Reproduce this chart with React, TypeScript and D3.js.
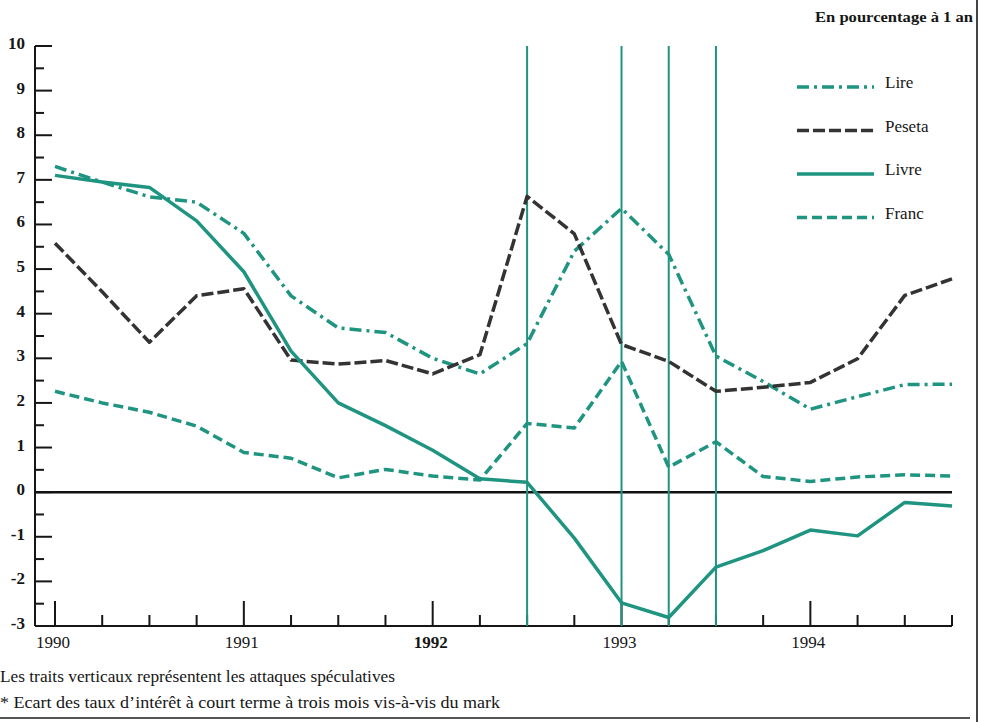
import React from 'react';
import * as d3 from 'd3';

// quarterly observations, 1990 Q1 .. 1994 Q4
const quarters: number[] = [
  1990, 1990.25, 1990.5, 1990.75, 1991, 1991.25, 1991.5, 1991.75, 1992, 1992.25,
  1992.5, 1992.75, 1993, 1993.25, 1993.5, 1993.75, 1994, 1994.25, 1994.5, 1994.75,
];

const lire: number[] = [
  7.3, 6.95, 6.62, 6.5, 5.8, 4.4, 3.68, 3.58, 3.0, 2.65,
  3.33, 5.4, 6.36, 5.33, 3.05, 2.48, 1.86, 2.14, 2.41, 2.42,
];
const peseta: number[] = [
  5.58, 4.49, 3.36, 4.4, 4.56, 2.96, 2.87, 2.95, 2.65, 3.08,
  6.63, 5.79, 3.31, 2.93, 2.26, 2.35, 2.46, 2.99, 4.41, 4.78,
];
const livre: number[] = [
  7.1, 6.95, 6.83, 6.08, 4.94, 3.16, 2.0, 1.49, 0.94, 0.3,
  0.22, -1.03, -2.48, -2.81, -1.68, -1.31, -0.85, -0.98, -0.23, -0.31,
];
const franc: number[] = [
  2.26, 2.0, 1.79, 1.48, 0.89, 0.76, 0.32, 0.51, 0.36, 0.27,
  1.54, 1.44, 2.93, 0.56, 1.13, 0.35, 0.24, 0.34, 0.39, 0.36,
];

// speculative attacks (vertical lines)
const attacks: number[] = [1992.5, 1993, 1993.25, 1993.5];

const yearTicks: number[] = [1990, 1991, 1992, 1993, 1994];
const yTickLabels: number[] = [10, 9, 8, 7, 6, 5, 4, 3, 2, 1, 0, -1, -2, -3];

const GREEN = '#1f9480';
const DARK = '#333333';
const INK = '#161616';
const FONT = "'Liberation Serif', 'Times New Roman', serif";

const series = [
  { name: 'Lire', values: lire, color: GREEN, dash: '12,5,3,5' },
  { name: 'Peseta', values: peseta, color: DARK, dash: '12,4' },
  { name: 'Livre', values: livre, color: GREEN, dash: '' },
  { name: 'Franc', values: franc, color: GREEN, dash: '10,5' },
];

const App: React.FC = () => {
  const axisX = 35;
  const x = d3.scaleLinear().domain([1990, 1994.75]).range([55, 952]);
  const y = d3.scaleLinear().domain([-3, 10]).range([626, 46]);

  const line = d3
    .line<number>()
    .x((_, i) => x(quarters[i]))
    .y((d) => y(d));

  const quarterTicks = d3.range(1990, 1994.76, 0.25);
  const halfTicks = d3.range(-3, 10.01, 0.5);

  return (
    <svg
      width={981}
      height={722}
      style={{ position: 'absolute', left: 0, top: 0, background: '#fff', fontFamily: FONT }}
    >
      {/* unit note */}
      <text x={973} y={22} textAnchor="end" fontSize={15} fontWeight="bold" fill={INK} textLength={158} lengthAdjust="spacingAndGlyphs">
        En pourcentage à 1 an
      </text>

      {/* y axis */}
      <line x1={axisX} x2={axisX} y1={y(10)} y2={y(-3)} stroke={INK} strokeWidth={2} />
      {halfTicks.map((v) => {
        const major = Math.abs(v - Math.round(v)) < 1e-6;
        return (
          <line
            key={`yt${v}`}
            x1={axisX}
            x2={axisX + (major ? 17 : 9)}
            y1={y(v)}
            y2={y(v)}
            stroke={INK}
            strokeWidth={2}
          />
        );
      })}
      {yTickLabels.map((v) => (
        <text
          key={`yl${v}`}
          x={25}
          y={y(v) + 3}
          textAnchor="end"
          fontSize={17}
          fontWeight="bold"
          fill={INK}
        >
          {v}
        </text>
      ))}

      {/* x axis */}
      <line x1={axisX} x2={952} y1={y(-3)} y2={y(-3)} stroke={INK} strokeWidth={2} />
      {quarterTicks.map((t) => {
        const major = Math.abs(t - Math.round(t)) < 1e-6;
        return (
          <line
            key={`xt${t}`}
            x1={x(t)}
            x2={x(t)}
            y1={y(-3)}
            y2={y(-3) - (major ? 25 : 11)}
            stroke={INK}
            strokeWidth={2}
          />
        );
      })}
      {yearTicks.map((t) => (
        <text
          key={`xl${t}`}
          x={x(t) - 2}
          y={648}
          textAnchor="middle"
          fontSize={17}
          fontWeight={t === 1992 ? 'bold' : 'normal'}
          fill={INK}
        >
          {t}
        </text>
      ))}

      {/* zero line */}
      <line x1={axisX} x2={952} y1={y(0)} y2={y(0)} stroke="#111" strokeWidth={2.5} />

      {/* attack lines */}
      {attacks.map((t) => (
        <line
          key={`a${t}`}
          x1={x(t)}
          x2={x(t)}
          y1={y(10)}
          y2={y(-3)}
          stroke={GREEN}
          strokeWidth={2}
        />
      ))}

      {/* series */}
      {series.map((s) => (
        <path
          key={s.name}
          d={line(s.values) || ''}
          fill="none"
          stroke={s.color}
          strokeWidth={3.5}
          strokeDasharray={s.dash || undefined}
          strokeLinejoin="round"
        />
      ))}

      {/* legend */}
      {series.map((s, i) => {
        const ly = 87 + i * 43.5;
        return (
          <g key={`lg${s.name}`}>
            <line
              x1={797}
              x2={874}
              y1={ly}
              y2={ly}
              stroke={s.color}
              strokeWidth={3.5}
              strokeDasharray={s.dash || undefined}
            />
            <text x={885} y={ly + 1} fontSize={17} fill={INK}>
              {s.name}
            </text>
          </g>
        );
      })}

      {/* notes */}
      <text x={0} y={682} fontSize={16} fill={INK} textLength={395} lengthAdjust="spacingAndGlyphs">
        Les traits verticaux représentent les attaques spéculatives
      </text>
      <text x={0} y={708} fontSize={16} fill={INK} textLength={500} lengthAdjust="spacingAndGlyphs">
        * Ecart des taux d’intérêt à court terme à trois mois vis-à-vis du mark
      </text>

      {/* page frame */}
      <line x1={977} x2={977} y1={0} y2={722} stroke="#444" strokeWidth={2} />
      <line x1={0} x2={970} y1={718} y2={718} stroke="#555" strokeWidth={2} />
    </svg>
  );
};

export default App;
